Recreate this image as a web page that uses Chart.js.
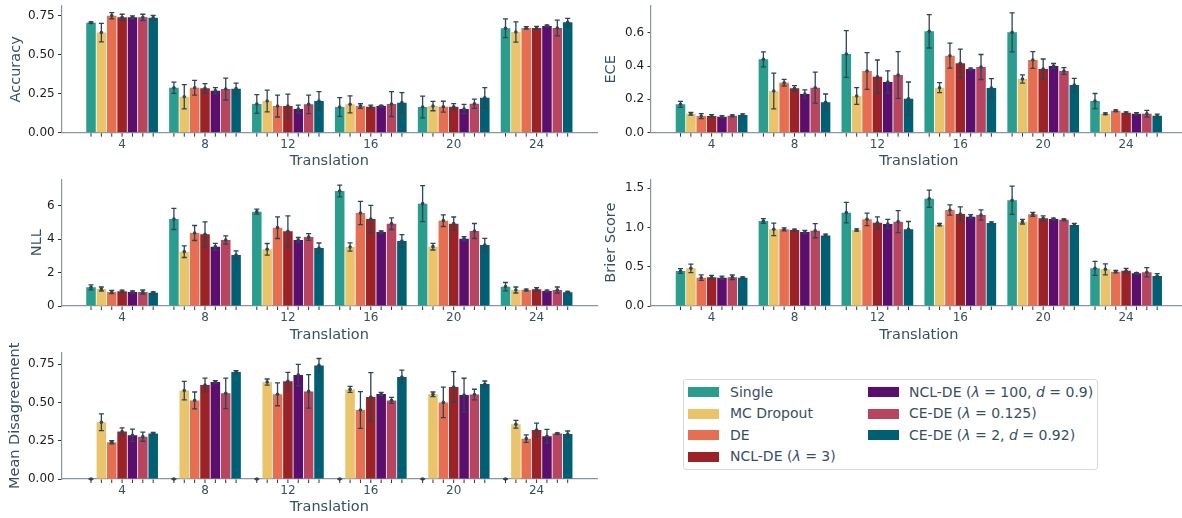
<!DOCTYPE html>
<html>
<head>
<meta charset="utf-8">
<script src="https://cdn.jsdelivr.net/npm/chart.js@4.4.1/dist/chart.umd.min.js"></script>
<style>
  body { margin: 0; width: 1182px; height: 518px; overflow: hidden; background: #fff; position: relative; font-family: "DejaVu Sans", sans-serif; }
  .panel { position: absolute; }
  #legend { position: absolute; left: 683px; top: 379px; width: 415px; height: 91px; border: 1px solid #d8d8d8; border-radius: 3px; box-sizing: border-box; }
  .item { position: absolute; font-size: 14px; color: #37505f; white-space: nowrap; line-height: 16px; }
  .patch { position: absolute; width: 31px; height: 10px; }
</style>
</head>
<body>
<div id="legend"></div>

<script>
const translations = ['4', '8', '12', '16', '20', '24'];
const methods = ['Single', 'MC Dropout', 'DE', 'NCL-DE (λ = 3)', 'NCL-DE (λ = 100, d = 0.9)', 'CE-DE (λ = 0.125)', 'CE-DE (λ = 2, d = 0.92)'];
const legendLabels = ['Single', 'MC Dropout', 'DE', 'NCL-DE (<i>λ</i> = 3)', 'NCL-DE (<i>λ</i> = 100, <i>d</i> = 0.9)', 'CE-DE (<i>λ</i> = 0.125)', 'CE-DE (<i>λ</i> = 2, <i>d</i> = 0.92)'];
const colors = ['#2a9d8f', '#e9c46a', '#e76f51', '#9b2226', '#5a0f6e', '#b7455f', '#005f73'];

// rows = methods, columns = translations
const accMean = [
  [0.707, 0.289, 0.184, 0.165, 0.165, 0.671],
  [0.643, 0.231, 0.204, 0.182, 0.171, 0.647],
  [0.752, 0.289, 0.171, 0.171, 0.167, 0.673],
  [0.741, 0.285, 0.171, 0.167, 0.167, 0.673],
  [0.741, 0.270, 0.152, 0.171, 0.152, 0.686],
  [0.741, 0.280, 0.182, 0.184, 0.186, 0.673],
  [0.739, 0.283, 0.204, 0.193, 0.225, 0.709]
];
const accErr = [
  [0.005, 0.036, 0.060, 0.060, 0.070, 0.060],
  [0.060, 0.078, 0.070, 0.055, 0.030, 0.065],
  [0.020, 0.047, 0.070, 0.015, 0.035, 0.008],
  [0.020, 0.030, 0.077, 0.010, 0.020, 0.010],
  [0.010, 0.020, 0.025, 0.005, 0.030, 0.005],
  [0.020, 0.070, 0.060, 0.080, 0.030, 0.050],
  [0.015, 0.036, 0.060, 0.065, 0.065, 0.025]
];

const eceMean = [
  [0.170, 0.440, 0.472, 0.608, 0.602, 0.190],
  [0.114, 0.250, 0.220, 0.270, 0.322, 0.114],
  [0.100, 0.300, 0.370, 0.462, 0.436, 0.132],
  [0.100, 0.266, 0.336, 0.416, 0.382, 0.120],
  [0.096, 0.232, 0.304, 0.382, 0.400, 0.114],
  [0.102, 0.270, 0.346, 0.394, 0.370, 0.114],
  [0.106, 0.182, 0.204, 0.268, 0.286, 0.102]
];
const eceErr = [
  [0.018, 0.045, 0.140, 0.100, 0.117, 0.045],
  [0.008, 0.107, 0.050, 0.030, 0.025, 0.005],
  [0.015, 0.020, 0.110, 0.075, 0.050, 0.005],
  [0.008, 0.016, 0.100, 0.085, 0.060, 0.005],
  [0.006, 0.025, 0.067, 0.005, 0.015, 0.007],
  [0.005, 0.093, 0.140, 0.075, 0.020, 0.020],
  [0.007, 0.050, 0.100, 0.056, 0.040, 0.010]
];

const nllMean = [
  [1.12, 5.22, 5.66, 6.90, 6.14, 1.16],
  [1.02, 3.26, 3.40, 3.54, 3.56, 0.96],
  [0.84, 4.38, 4.70, 5.58, 5.12, 0.96],
  [0.88, 4.30, 4.48, 5.22, 4.94, 1.00],
  [0.84, 3.56, 3.96, 4.44, 4.04, 0.90],
  [0.84, 3.96, 4.14, 4.94, 4.50, 0.96],
  [0.80, 3.06, 3.48, 3.90, 3.66, 0.82]
];
const nllErr = [
  [0.15, 0.63, 0.15, 0.35, 1.08, 0.25],
  [0.12, 0.35, 0.35, 0.25, 0.20, 0.18],
  [0.10, 0.45, 0.65, 0.70, 0.35, 0.05],
  [0.07, 0.75, 0.93, 0.82, 0.40, 0.10],
  [0.06, 0.20, 0.15, 0.06, 0.12, 0.05],
  [0.12, 0.25, 0.20, 0.35, 0.45, 0.18],
  [0.05, 0.25, 0.30, 0.38, 0.40, 0.05]
];

const brierMean = [
  [0.446, 1.084, 1.190, 1.368, 1.347, 0.480],
  [0.480, 0.977, 0.969, 1.037, 1.075, 0.467],
  [0.361, 0.977, 1.105, 1.224, 1.169, 0.438],
  [0.365, 0.969, 1.062, 1.173, 1.118, 0.450],
  [0.361, 0.943, 1.045, 1.139, 1.109, 0.416],
  [0.365, 0.960, 1.075, 1.160, 1.100, 0.430],
  [0.361, 0.900, 0.977, 1.058, 1.033, 0.382]
];
const brierErr = [
  [0.030, 0.030, 0.130, 0.110, 0.180, 0.090],
  [0.055, 0.080, 0.015, 0.015, 0.030, 0.070],
  [0.035, 0.020, 0.080, 0.065, 0.025, 0.015],
  [0.025, 0.010, 0.075, 0.090, 0.030, 0.030],
  [0.020, 0.020, 0.060, 0.025, 0.010, 0.010],
  [0.030, 0.090, 0.140, 0.065, 0.010, 0.060],
  [0.010, 0.015, 0.100, 0.015, 0.020, 0.030]
];

const disMean = [
  [0, 0, 0, 0, 0, 0],
  [0.371, 0.578, 0.634, 0.586, 0.554, 0.358],
  [0.240, 0.514, 0.554, 0.451, 0.501, 0.264],
  [0.310, 0.615, 0.639, 0.536, 0.602, 0.320],
  [0.286, 0.634, 0.680, 0.556, 0.549, 0.279],
  [0.277, 0.560, 0.573, 0.514, 0.552, 0.297],
  [0.297, 0.700, 0.743, 0.667, 0.621, 0.294]
];
const disErr = [
  [0, 0, 0, 0, 0, 0],
  [0.055, 0.060, 0.020, 0.020, 0.015, 0.025],
  [0.010, 0.055, 0.075, 0.120, 0.100, 0.025],
  [0.025, 0.045, 0.058, 0.160, 0.100, 0.045],
  [0.040, 0.010, 0.070, 0.010, 0.110, 0.045],
  [0.030, 0.100, 0.110, 0.020, 0.035, 0.005],
  [0.007, 0.008, 0.045, 0.045, 0.020, 0.020]
];

const accTicks = [0, 0.25, 0.5, 0.75];
const eceTicks = [0, 0.2, 0.4, 0.6];
const nllTicks = [0, 2, 4, 6];
const brierTicks = [0, 0.5, 1.0, 1.5];
const disTicks = [0, 0.25, 0.5, 0.75];

const FONT = 'DejaVu Sans';
const SLATE = '#37505f';
const SPINE = '#8797a1';
const ERR = '#2d4653';

// error bars + small tick under every bar
const errorBarPlugin = {
  id: 'errorBars',
  afterDatasetsDraw(chart) {
    const ctx = chart.ctx;
    const yScale = chart.scales.y;
    const bottom = chart.chartArea.bottom;
    ctx.save();
    chart.data.datasets.forEach((ds, d) => {
      const meta = chart.getDatasetMeta(d);
      meta.data.forEach((bar, i) => {
        const v = ds.data[i].y;
        const e = ds.errors[i];
        const yTop = yScale.getPixelForValue(v + e);
        const yBot = yScale.getPixelForValue(v - e);
        const yMid = yScale.getPixelForValue(v);
        ctx.strokeStyle = ERR;
        ctx.fillStyle = ERR;
        ctx.lineWidth = 1.3;
        ctx.beginPath();
        ctx.moveTo(bar.x, yTop); ctx.lineTo(bar.x, yBot);
        ctx.moveTo(bar.x - 2.5, yTop); ctx.lineTo(bar.x + 2.5, yTop);
        ctx.moveTo(bar.x - 2.5, yBot); ctx.lineTo(bar.x + 2.5, yBot);
        ctx.stroke();
        ctx.beginPath();
        ctx.arc(bar.x, yMid, 1.8, 0, Math.PI * 2);
        ctx.fill();
        // minor tick
        ctx.strokeStyle = '#333';
        ctx.lineWidth = 1;
        ctx.beginPath();
        ctx.moveTo(bar.x, bottom + 0.5); ctx.lineTo(bar.x, bottom + 4);
        ctx.stroke();
      });
    });
    ctx.restore();
  }
};

function makePanel(box, area, yTitle, yTitlePad, xTitlePad, mean, err, ymax, ticks, decimals) {
  const [x0, y0, w, h] = box;
  const [L, T, R, B] = area;
  const div = document.createElement('div');
  div.className = 'panel';
  div.style.left = x0 + 'px';
  div.style.top = y0 + 'px';
  const canvas = document.createElement('canvas');
  canvas.width = w; canvas.height = h;
  canvas.style.width = w + 'px'; canvas.style.height = h + 'px';
  div.appendChild(canvas);
  document.body.appendChild(div);

  const yWidth = L - x0;
  const xHeight = y0 + h - B;

  new Chart(canvas, {
    type: 'bar',
    data: {
      datasets: methods.map((m, j) => ({
        label: m,
        data: mean[j].map((v, i) => ({ x: i, y: v })),
        errors: err[j],
        backgroundColor: colors[j],
        borderWidth: 0
      }))
    },
    options: {
      responsive: false,
      animation: false,
      devicePixelRatio: 1,
      categoryPercentage: 0.875,
      barPercentage: 0.92,
      layout: { padding: { left: 0, top: T - y0, right: x0 + w - R, bottom: 0 } },
      plugins: { legend: { display: false }, tooltip: { enabled: false } },
      scales: {
        x: {
          type: 'linear', min: -0.731, max: 5.731, offset: false,
          afterBuildTicks: s => { s.ticks = translations.map((t, i) => ({ value: i })); },
          afterFit: s => { s.height = xHeight; s.paddingLeft = 0; s.paddingRight = 0; },
          ticks: { autoSkip: false, maxRotation: 0, padding: 1.5, color: SLATE, font: { family: FONT, size: 12 }, callback: v => translations[v] },
          grid: { drawOnChartArea: false, drawTicks: true, tickLength: 3.5, color: 'rgba(0,0,0,0)', offset: false },
          border: { display: true, color: SPINE, width: 1.2 },
          title: { display: true, text: 'Translation', color: SLATE, font: { family: FONT, size: 14.5 }, padding: { top: 0, bottom: xTitlePad } }
        },
        y: {
          min: 0, max: ymax,
          afterBuildTicks: s => { s.ticks = ticks.map(v => ({ value: v })); },
          afterFit: s => { s.width = yWidth; s.paddingTop = 0; s.paddingBottom = 0; },
          ticks: { color: '#1c1c1c', padding: 3.3, font: { family: FONT, size: 12 }, callback: v => v.toFixed(decimals) },
          grid: { drawOnChartArea: false, drawTicks: true, tickLength: 3.5, color: '#333' },
          border: { display: true, color: SPINE, width: 1.2 },
          title: { display: true, text: yTitle, color: SLATE, font: { family: FONT, size: 14.5 }, padding: { top: yTitlePad, bottom: 0 } }
        }
      }
    },
    plugins: [errorBarPlugin]
  });
}

makePanel([0, 0, 600, 175], [61.5, 6, 597.2, 132.7], 'Accuracy', 7.8, 5.3, accMean, accErr, 0.814, accTicks, 2);
makePanel([592, 0, 598, 175], [651, 6, 1186.7, 132.7], 'ECE', 10.3, 5.3, eceMean, eceErr, 0.76, eceTicks, 1);
makePanel([0, 170, 600, 178], [61.5, 179.3, 597.2, 306], 'NLL', 28.3, 4.3, nllMean, nllErr, 7.6, nllTicks, 0);
makePanel([592, 170, 598, 178], [651, 179.3, 1186.7, 306], 'Brier Score', 10.3, 4.3, brierMean, brierErr, 1.615, brierTicks, 1);
makePanel([0, 328, 600, 190], [61.5, 352.7, 597.2, 479], 'Mean Disagreement', 7, 1.8, disMean, disErr, 0.826, disTicks, 2);

// legend
const legend = document.getElementById('legend');
legendLabels.forEach((lab, i) => {
  const col = i < 4 ? 0 : 1;
  const row = i < 4 ? i : i - 4;
  const cy = 390.5 + row * 21.6 - 379;
  const px = (col === 0 ? 687 : 866.7) - 683;
  const tx = (col === 0 ? 729 : 908) - 683;
  const patch = document.createElement('div');
  patch.className = 'patch';
  patch.style.background = colors[i];
  patch.style.left = px + 'px';
  patch.style.top = (cy - 4.5) + 'px';
  legend.appendChild(patch);
  const item = document.createElement('div');
  item.className = 'item';
  item.innerHTML = lab;
  item.style.left = tx + 'px';
  item.style.top = (cy - 8) + 'px';
  legend.appendChild(item);
});
</script>
</body>
</html>
